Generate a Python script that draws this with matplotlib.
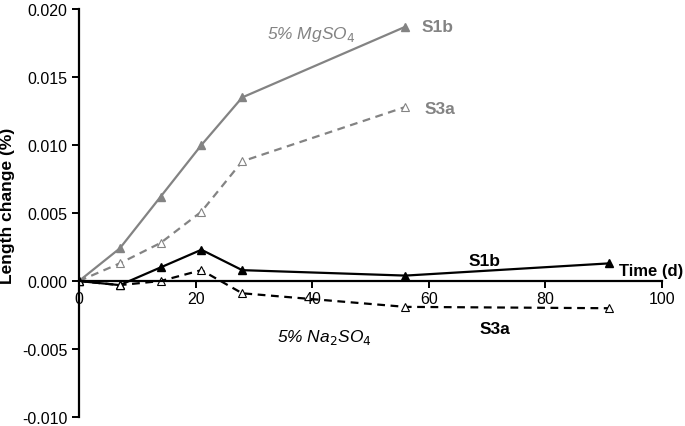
import matplotlib
matplotlib.use("Agg")
import matplotlib.pyplot as plt

plt.rcParams['font.family'] = ['Liberation Sans', 'DejaVu Sans']

days = [0, 7, 14, 21, 28, 56]
days_na = [0, 7, 14, 21, 28, 56, 91]

mg_s1b = [0.0, 0.0024, 0.0062, 0.0100, 0.0135, 0.0187]
mg_s3a = [0.0, 0.0013, 0.0028, 0.0051, 0.0088, 0.0128]
na_s1b = [0.0, -0.0003, 0.0010, 0.0023, 0.0008, 0.0004, 0.0013]
na_s3a = [0.0, -0.0003, 0.0000, 0.0008, -0.0009, -0.0019, -0.0020]

grey = '#838383'

fig = plt.figure(figsize=(6.85, 4.27), dpi=100)
ax = fig.add_axes([0.1153, 0.021, 0.851, 0.9555])

ax.plot(days, mg_s1b, color=grey, lw=1.6, marker='^', ms=6, mfc=grey, mec=grey)
ax.plot(days, mg_s3a, color=grey, lw=1.6, ls=(0, (3.5, 2.5)), marker='^', ms=6,
        mfc='white', mec=grey, mew=0.8)
ax.plot(days_na, na_s1b, color='black', lw=1.6, marker='^', ms=6, mfc='black', mec='black')
ax.plot(days_na, na_s3a, color='black', lw=1.6, ls=(0, (3.5, 2.5)), marker='^', ms=6,
        mfc='white', mec='black', mew=0.8)

ax.set_xlim(0, 100)
ax.set_ylim(-0.010, 0.020)
ax.set_xticks([0, 20, 40, 60, 80, 100])
ax.set_yticks([-0.010, -0.005, 0.0, 0.005, 0.010, 0.015, 0.020])
ax.set_yticklabels(['-0.010', '-0.005', '0.000', '0.005', '0.010', '0.015', '0.020'])

ax.spines['left'].set_position(('data', 0))
ax.spines['bottom'].set_position(('data', 0))
ax.spines['top'].set_visible(False)
ax.spines['right'].set_visible(False)
ax.spines['left'].set_linewidth(1.6)
ax.spines['bottom'].set_linewidth(1.6)
ax.tick_params(axis='both', direction='out', length=5, width=1.4, labelsize=11.5)
ax.tick_params(axis='x', pad=2)

ax.set_ylabel('Length change (%)', fontsize=12.5, fontweight='bold')
ax.yaxis.set_label_coords(-0.11, 0.52)

ax.text(32.2, 0.0182, '5% MgSO$_4$', color=grey, fontsize=12.5, style='italic', va='center')
ax.text(58.8, 0.0187, 'S1b', color=grey, fontsize=12.5, fontweight='bold', va='center')
ax.text(59.3, 0.0127, 'S3a', color=grey, fontsize=12.5, fontweight='bold', va='center')
ax.text(69.5, 0.0015, 'S1b', color='black', fontsize=12.5, fontweight='bold', va='center', ha='center')
ax.text(92.6, 0.0008, 'Time (d)', color='black', fontsize=12, fontweight='bold', va='center')
ax.text(71.4, -0.0035, 'S3a', color='black', fontsize=12.5, fontweight='bold', va='center', ha='center')
ax.text(34.0, -0.0041, '5% Na$_2$SO$_4$', color='black', fontsize=12.5, style='italic', va='center')

fig.savefig('out.png', dpi=100)
